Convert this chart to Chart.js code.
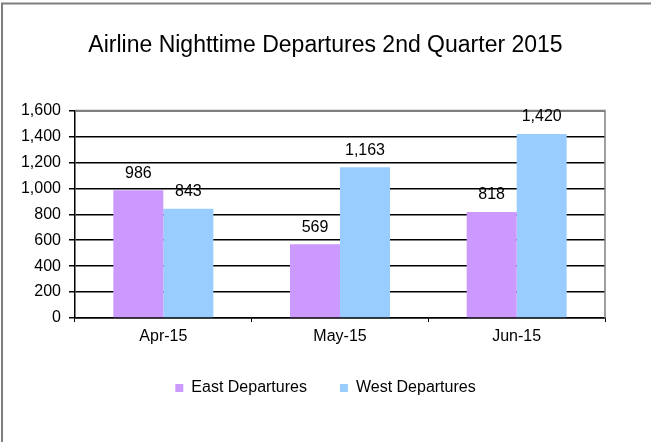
<!DOCTYPE html>
<html>
<head>
<meta charset="utf-8">
<script src="https://cdn.jsdelivr.net/npm/chart.js@4"></script>
<style>
  html, body { margin: 0; padding: 0; background: #fff; }
  #wrap { width: 651px; height: 442px; position: relative; }
</style>
</head>
<body>
<div id="wrap"><canvas id="c" width="651" height="442"></canvas></div>
<script>
const categories = ["Apr-15", "May-15", "Jun-15"];
const eastDepartures = [986, 569, 818];
const westDepartures = [843, 1163, 1420];
const seriesNames = ["East Departures", "West Departures"];
const titleText = "Airline Nighttime Departures 2nd Quarter 2015";
const yTicks = [0, 200, 400, 600, 800, 1000, 1200, 1400, 1600];

const FONT = "'Liberation Sans', Arial, Helvetica, sans-serif";

const decorPlugin = {
  id: 'decor',
  afterDraw(chart) {
    const ctx = chart.ctx;
    const a = chart.chartArea;
    ctx.save();
    // outer frame (left and top)
    ctx.strokeStyle = '#7f7f7f';
    ctx.lineWidth = 2;
    ctx.beginPath();
    ctx.moveTo(2, 442);
    ctx.lineTo(2, 3.5);
    ctx.lineTo(651, 3.5);
    ctx.stroke();
    // plot area border top & right
    ctx.strokeStyle = '#808080';
    ctx.lineWidth = 1.5;
    ctx.beginPath();
    ctx.moveTo(a.left, a.top);
    ctx.lineTo(a.right, a.top);
    ctx.lineTo(a.right, a.bottom);
    ctx.stroke();
    // value labels
    ctx.fillStyle = '#000';
    ctx.font = "16px " + FONT;
    ctx.textAlign = 'center';
    ctx.textBaseline = 'middle';
    chart.data.datasets.forEach((ds, i) => {
      const meta = chart.getDatasetMeta(i);
      meta.data.forEach((bar, j) => {
        ctx.fillText(ds.data[j].toLocaleString('en-US'), bar.x, bar.y - 17);
      });
    });
    ctx.restore();
  }
};

new Chart(document.getElementById('c'), {
  type: 'bar',
  data: {
    labels: categories,
    datasets: [
      { label: seriesNames[0], data: eastDepartures, backgroundColor: '#CC99FF', borderWidth: 0 },
      { label: seriesNames[1], data: westDepartures, backgroundColor: '#99CCFF', borderWidth: 0 }
    ]
  },
  options: {
    responsive: false,
    animation: false,
    devicePixelRatio: 1,
    categoryPercentage: 0.566,
    barPercentage: 1.0,
    layout: { padding: { left: 0, right: 0, top: 0, bottom: 36 } },
    plugins: {
      title: {
        display: true,
        text: titleText,
        color: '#000',
        font: { family: FONT, size: 23, weight: 'normal' },
        padding: { top: 32, bottom: 51 }
      },
      legend: {
        display: true,
        position: 'bottom',
        labels: {
          color: '#000',
          font: { family: FONT, size: 16 },
          boxWidth: 8,
          boxHeight: 8,
          padding: 33
        }
      },
      tooltip: { enabled: false }
    },
    scales: {
      x: {
        offset: true,
        grid: {
          offset: true,
          drawOnChartArea: false,
          drawTicks: true,
          tickLength: 4,
          color: '#000',
          lineWidth: 1
        },
        border: { display: true, color: '#000', width: 1.5 },
        ticks: { color: '#000', font: { family: FONT, size: 16 }, padding: 5 },
        afterFit(scale) { scale.height = 29; }
      },
      y: {
        min: 0,
        max: 1600,
        afterBuildTicks(scale) { scale.ticks = yTicks.map(v => ({ value: v })); },
        grid: {
          drawOnChartArea: true,
          drawTicks: true,
          tickLength: 6,
          color: '#000',
          lineWidth: 1.5
        },
        border: { display: true, color: '#000', width: 1.5 },
        ticks: {
          color: '#000',
          font: { family: FONT, size: 16 },
          padding: 8,
          callback: (v) => Number(v).toLocaleString('en-US')
        },
        afterFit(scale) { scale.width = 75; }
      },
      yRightSpacer: {
        position: 'right',
        display: true,
        grid: { display: false, drawTicks: false },
        border: { display: false },
        ticks: { display: false },
        afterFit(scale) { scale.width = 46; }
      }
    }
  },
  plugins: [decorPlugin]
});
</script>
</body>
</html>
